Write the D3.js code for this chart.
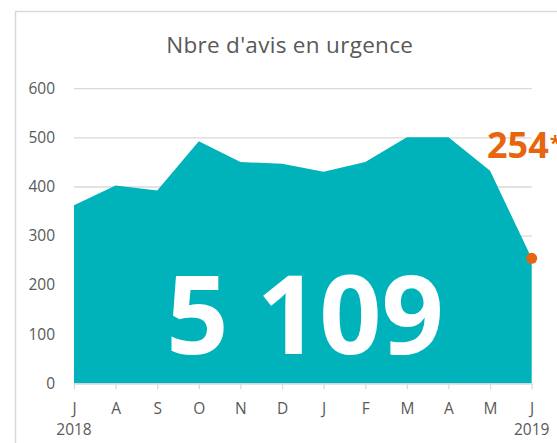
<!DOCTYPE html>
<html>
<head>
<meta charset="utf-8">
<script src="https://cdn.jsdelivr.net/npm/d3@7"></script>
<style>
  html, body { margin: 0; padding: 0; background: #fff; }
  svg { display: block; }
  text { font-family: "Open Sans", sans-serif; }
</style>
</head>
<body>
<svg id="chart" width="557" height="443"></svg>
<script>
// ---- data ----
const months = ["J", "A", "S", "O", "N", "D", "J", "F", "M", "A", "M", "J"];
const values = [362, 402, 392, 492, 450, 446, 430, 450, 500, 500, 432, 254];
const yearLabels = ["2018", "", "", "", "", "", "", "", "", "", "", "2019"];
const yTicks = [0, 100, 200, 300, 400, 500, 600];
const title = "Nbre d'avis en urgence";
const totalLabel = "5 109";
const lastLabel = "254";
const lastNote = "*";

// ---- layout ----
const W = 557, H = 443;
const x0 = 74, x1 = 531.7, yBottom = 383.3, yTop = 88.1;
const teal = "#00B3BB", orange = "#E8650F", grid = "#D9D9D9", textCol = "#595959";

const svg = d3.select("#chart");

// chart border
svg.append("rect")
  .attr("x", 15.5).attr("y", 11.5)
  .attr("width", W).attr("height", H)
  .attr("fill", "#fff").attr("stroke", grid).attr("stroke-width", 1.5);

const idx = d3.range(months.length);
const x = d3.scalePoint().domain(idx).range([x0, x1]);
const y = d3.scaleLinear().domain([0, 600]).range([yBottom, yTop]);

// title
svg.append("text")
  .attr("x", 289.7).attr("y", 53)
  .attr("text-anchor", "middle")
  .attr("font-size", 22.5).attr("letter-spacing", 0.3).attr("fill", textCol)
  .text(title);

// y axis with gridlines
const yAxis = svg.append("g")
  .attr("transform", `translate(${x0},0)`)
  .call(d3.axisLeft(y).tickValues(yTicks).tickSize(-(x1 - x0)).tickPadding(19));
yAxis.select(".domain").remove();
yAxis.selectAll(".tick line").attr("stroke", grid).attr("stroke-width", 1.3);
yAxis.selectAll(".tick text")
  .attr("font-size", 15.5).attr("fill", textCol)
  .attr("font-family", "Open Sans, sans-serif");

// area
const area = d3.area()
  .x((d, i) => x(i))
  .y0(y(0))
  .y1(d => y(d));
svg.append("path")
  .datum(values)
  .attr("d", area)
  .attr("fill", teal);

// x axis
const xAxis = svg.append("g")
  .attr("transform", `translate(0,${yBottom})`)
  .call(d3.axisBottom(x).tickSizeInner(6).tickSizeOuter(0).tickPadding(13.5)
    .tickFormat(i => months[i]));
xAxis.select(".domain").attr("stroke", grid).attr("stroke-width", 1.3);
xAxis.selectAll(".tick line").attr("stroke", grid).attr("stroke-width", 1.3);
xAxis.selectAll(".tick text")
  .attr("font-size", 15.5).attr("fill", textCol)
  .attr("font-family", "Open Sans, sans-serif");

// year labels
svg.append("g").selectAll("text")
  .data(idx.filter(i => yearLabels[i] !== ""))
  .join("text")
  .attr("x", i => x(i))
  .attr("y", 434.8)
  .attr("text-anchor", "middle")
  .attr("font-size", 15.5).attr("fill", textCol)
  .text(i => yearLabels[i]);

// big total
svg.append("text")
  .attr("x", 305).attr("y", 354.3)
  .attr("text-anchor", "middle")
  .attr("font-size", 109).attr("font-weight", 700)
  .attr("fill", "#fff")
  .text(totalLabel);

// last point marker
const last = values.length - 1;
svg.append("circle")
  .attr("cx", x(last)).attr("cy", y(values[last]))
  .attr("r", 5.5).attr("fill", orange);

// last value label
const lbl = svg.append("text")
  .attr("x", 487).attr("y", 158.3)
  .attr("font-size", 36).attr("font-weight", 700)
  .attr("fill", orange);
lbl.append("tspan").text(lastLabel);
lbl.append("tspan").attr("font-size", 20).attr("dx", 1).attr("dy", -8).text(lastNote);
</script>
</body>
</html>
